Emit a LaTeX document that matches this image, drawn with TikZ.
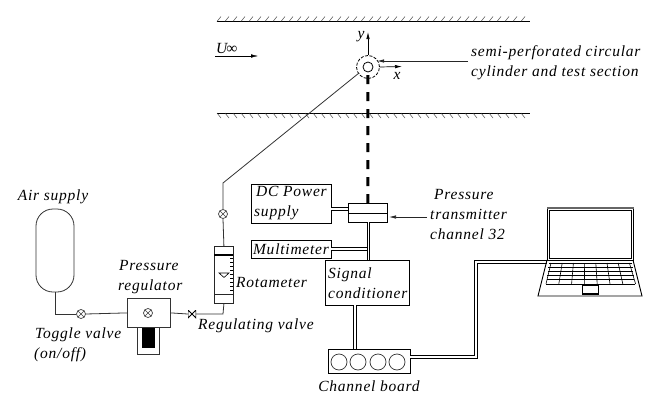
\documentclass[tikz,border=0pt]{standalone}
\usepackage{fontspec}
\setmainfont[LetterSpace=5]{Liberation Serif}
\usetikzlibrary{arrows.meta}
\tikzset{
  lbl/.style={font=\fontsize{15.5}{20}\selectfont\itshape, inner sep=0pt, align=left},
  box/.style={draw, line width=.8pt, inner sep=0pt, anchor=north west, fill=white},
  pipe/.style={draw=black!80, line width=.8pt},
  cable/.style={draw=black, line width=.9pt, double=white, double distance=1.7pt},
  tip/.style={-{Latex[length=7pt,width=3.5pt]}},
  valve/.style={circle, draw=black!75, fill=white, line width=.7pt, minimum size=9pt, inner sep=0pt,
    path picture={
      \draw[black!75] (path picture bounding box.north west) -- (path picture bounding box.south east);
      \draw[black!75] (path picture bounding box.south west) -- (path picture bounding box.north east);}},
  bowtie/.style={minimum size=8pt, inner sep=0pt,
    path picture={
      \draw[line width=.8pt] (path picture bounding box.north west) -- (path picture bounding box.south east)
        -- (path picture bounding box.north east) -- (path picture bounding box.south west) -- cycle;}}
}
\begin{document}
\begin{tikzpicture}[x=1pt, y=-1pt]
  \useasboundingbox (0, 0) rectangle (649, 394);
  % walls
  \draw[line width=.8pt] (217, 21.5) -- (530, 21.5);
  \draw[line width=.8pt] (217, 113) -- (530, 113);
  \foreach \x in {217, 225, ..., 525} {
    \draw[black!80] (\x, 21.5) -- ++(4, -5);
    \draw[black!80] (\x, 113) -- ++(4, 5);
  }
  % flow
  \coordinate (flowa) at (215, 56);
  \coordinate (flowb) at (258, 56);
  \draw[tip] (flowa) -- (flowb);
  \node[lbl, anchor=west] (flow) at (216, 48) {U\kern-1pt{\upshape∞}};
  % cylinder
  \node[circle, draw, line width=.8pt, minimum size=10pt, inner sep=0pt] (cyl) at (368, 67) {};
  \node[circle, draw, dashed, dash pattern=on 3pt off 1.5pt, line width=.8pt, minimum size=23pt, inner sep=0pt] (sect) at (368, 67) {};
  \coordinate (yend) at (368, 32);
  \coordinate (xend) at (402, 66.5);
  \coordinate (linefar) at (468, 61);
  \coordinate (linenear) at (377, 61);
  \draw[tip, line width=.7pt] (sect.north) -- (yend);
  \draw[tip, line width=.7pt] (sect.east) -- (xend);
  \draw[tip, black!85, line width=.8pt] (linefar) -- (linenear);
  \node[lbl] (ylabel) at (361, 37) {y};
  \node[lbl] (xlabel) at (397, 76) {x};
  \node[lbl, anchor=west] (cyllabel) at (471, 62.5) {semi-perforated circular\\cylinder and test section};
  % transmitter
  \node[box, minimum width=39pt, minimum height=19pt] (trans) at (348, 203) {};
  \draw[line width=.7pt] (trans.west) -- (trans.east);
  \draw[line width=3pt, dash pattern=on 9pt off 8pt] (trans.north) -- (cyl.south);
  \coordinate (translineb) at (427, 217);
  \coordinate (translinea) at (389, 217);
  \draw[tip, black!85, line width=.7pt] (translineb) -- (translinea);
  \node[lbl, anchor=west] (translabel) at (430, 215) {\kern4pt Pressure\\transmitter\\channel 32};
  % boxes
  \node[box, minimum width=80pt, minimum height=39pt] (dc) at (251, 184) {};
  \node[lbl, anchor=west] (dclabel) at (254, 203) {\kern2pt DC Power\\supply};
  \node[box, minimum width=80pt, minimum height=18pt] (multi) at (251, 240) {};
  \node[lbl] (multilabel) at (291, 249.5) {Multimeter};
  \node[box, minimum width=84pt, minimum height=45pt] (signal) at (325, 260) {};
  \node[lbl, anchor=west] (signallabel) at (328, 283) {Signal\\conditioner};
  \node[box, minimum width=82pt, minimum height=24pt] (board) at (328, 349) {};
  \foreach \i/\x in {1/339, 2/358, 3/378, 4/397} {
    \node[circle, draw=black!80, line width=.7pt, minimum size=16pt, inner sep=0pt] (hole\i) at (\x, 362) {};
  }
  \node[lbl] (boardlabel) at (369, 386) {Channel board};
  % cables
  \coordinate (dcstart) at (331, 209);
  \coordinate (dcend) at (348, 209);
  \coordinate (multistart) at (331, 249);
  \coordinate (multiend) at (368.5, 249);
  \coordinate (signalin) at (368.5, 260);
  \coordinate (transout) at (368.5, 222);
  \coordinate (signalout) at (355, 305);
  \coordinate (boardin) at (355, 349);
  \coordinate (boardout) at (410, 357);
  \coordinate (cablec) at (476, 357);
  \coordinate (cabled) at (476, 262);
  \coordinate (laptopin) at (547, 262);
  \draw[cable] (dcstart) -- (dcend);
  \draw[cable] (multistart) -- (multiend);
  \draw[cable] (transout) -- (signalin);
  \draw[cable] (signalout) -- (boardin);
  \draw[cable] (boardout) -- (cablec) -- (cabled) -- (laptopin);
  % laptop
  \node[box, minimum width=86pt, minimum height=52pt] (screen) at (547, 208) {};
  \draw[black!60, line width=1.2pt] (screen.north west) -- (screen.north east);
  \draw[line width=.6pt] (549, 210) rectangle (631, 258);
  \draw[line width=.9pt] (547, 260) -- (538, 296) -- (642, 296) -- (633, 260);
  \foreach \i in {0, ..., 5} {
    \draw[line width=.8pt] ({549-.6*\i}, {263+4.2*\i}) -- ({632+.6*\i}, {263+4.2*\i});
  }
  \foreach \i in {0, ..., 7} {
    \draw[line width=.6pt] ({551+11.2*\i}, 263) -- ({546+12.8*\i}, 284);
  }
  \node[box, minimum width=16pt, minimum height=9pt] (pad) at (582, 285) {};
  \draw[line width=.6pt] (pad.south west) ++(0, -2) -- ++(16, 0);
  % air line
  \node[draw=black!80, line width=.8pt, rounded corners=17pt, minimum width=38pt, minimum height=83pt, inner sep=0pt] (tank) at (55, 250.5) {};
  \node[lbl] (tanklabel) at (53, 197) {Air supply};
  \node[valve] (toggle) at (81, 314) {};
  \node[lbl, anchor=west] (togglelabel) at (34, 345) {\kern1pt Toggle valve\\(on/off)};
  \node[box, draw=black!80, minimum width=22pt, minimum height=28pt] (lower) at (137, 326) {};
  \fill (142, 327) rectangle (155, 348);
  \node[box, draw=black!80, minimum width=43pt, minimum height=29pt] (reg) at (127, 298) {};
  \node[valve] (regvalve) at (148, 313) {};
  \node[lbl, anchor=west] (reglabel) at (118, 277) {\kern1pt Pressure\\regulator};
  \node[bowtie] (needle) at (192, 314) {};
  \node[lbl, anchor=west] (needlelabel) at (198, 326) {Regulating valve};
  \node[box, draw=black!85, minimum width=19pt, minimum height=57pt] (rota) at (214, 246) {};
  \draw[line width=1.3pt] (214, 255) -- (233, 255);
  \draw[black!85, line width=.7pt] (214, 294) -- (233, 294);
  \draw[line width=.6pt] (219, 273) -- (229, 273) -- (224, 277.5) -- cycle;
  \foreach \y in {258, 262, ..., 292} {
    \draw[line width=.5pt] (233, \y) -- ++(-3, 0);
  }
  \node[lbl, anchor=west] (rotalabel) at (236, 283) {Rotameter};
  \node[valve] (upper) at (223, 214) {};
  \coordinate (bendlow) at (55, 314);
  \coordinate (bendrota) at (223, 314);
  \coordinate (bendup) at (223, 183);
  \coordinate (cylin) at (359, 73);
  \draw[pipe] (tank.south) -- (bendlow) -- (toggle.west);
  \draw[pipe] (toggle.east) -- (reg.west);
  \draw[pipe] (reg.east) -- (needle.west);
  \draw[pipe] (needle.east) -- (bendrota) -- (rota.south);
  \draw[pipe] (rota.north) -- (upper.south);
  \draw[pipe] (upper.north) -- (bendup) -- (cylin);
\end{tikzpicture}
\end{document}
